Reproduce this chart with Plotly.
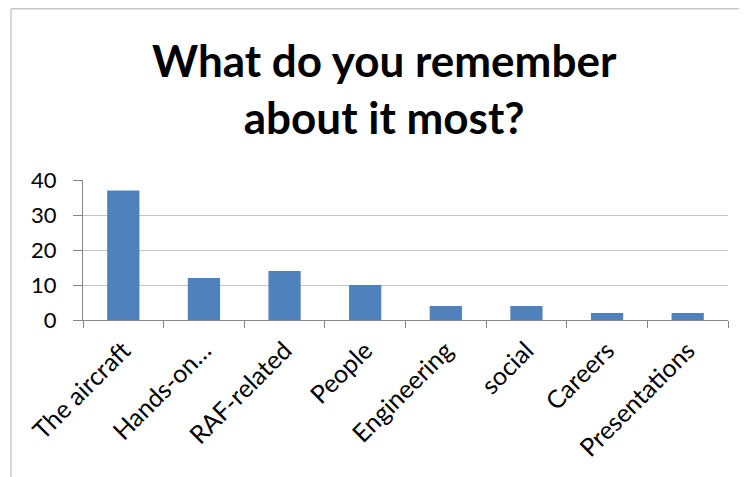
import plotly.graph_objects as go

categories = ["The aircraft", "Hands-on…", "RAF-related", "People", "Engineering", "social", "Careers", "Presentations"]
values = [37, 12, 14, 10, 4, 4, 2, 2]
y_ticks = [0, 10, 20, 30, 40]
title_text = "What do you remember<br>about it most?"

# page body has an 8px margin, so the figure is sized/positioned to compensate
OFF = 8
W, H = 747 - OFF, 477 - OFF
L, R, T, B = 83 - OFF, 19, 180 - OFF, 157
pw, ph = W - L - R, H - T - B

def px_x(x):
    return (x - OFF - L) / pw

def px_y(y):
    return (H - B - (y - OFF)) / ph

fig = go.Figure(go.Bar(x=categories, y=values, marker=dict(color="#4F81BD", line=dict(width=0))))

fig.update_layout(
    width=W, height=H,
    margin=dict(l=L, r=R, t=T, b=B),
    paper_bgcolor="white", plot_bgcolor="white",
    bargap=0.6,
    showlegend=False,
    font=dict(family="Lato, sans-serif", color="black"),
    xaxis=dict(type="category", showgrid=False, showline=True, linecolor="#868686", linewidth=1,
               ticks="outside", tickson="boundaries", ticklen=7, tickcolor="#868686",
               ticklabelstandoff=5,
               tickangle=-45, tickfont=dict(size=25, family="Lato, sans-serif", color="black")),
    yaxis=dict(range=[0, 40], tickvals=y_ticks, showgrid=True, gridcolor="#c4c4c4", gridwidth=1,
               showline=True, linecolor="#868686", ticks="outside", ticklen=9, tickcolor="#868686",
               ticklabelstandoff=12, zeroline=False,
               tickfont=dict(size=22, family="Lato, sans-serif", color="black")),
    annotations=[
        dict(text="<b>" + title_text + "</b>", xref="paper", yref="paper",
             x=px_x(384), y=px_y(32), xanchor="center", yanchor="top", showarrow=False,
             font=dict(size=44, family="Lato, sans-serif", color="black")),
    ],
    shapes=[
        dict(type="line", xref="paper", yref="paper", x0=px_x(11), x1=px_x(11), y0=px_y(480), y1=px_y(8.75),
             line=dict(color="#c8c8c8", width=1.5)),
        dict(type="line", xref="paper", yref="paper", x0=px_x(11), x1=px_x(750), y0=px_y(8.75), y1=px_y(8.75),
             line=dict(color="#c8c8c8", width=1.5)),
    ],
)

fig.write_html("out.html")
